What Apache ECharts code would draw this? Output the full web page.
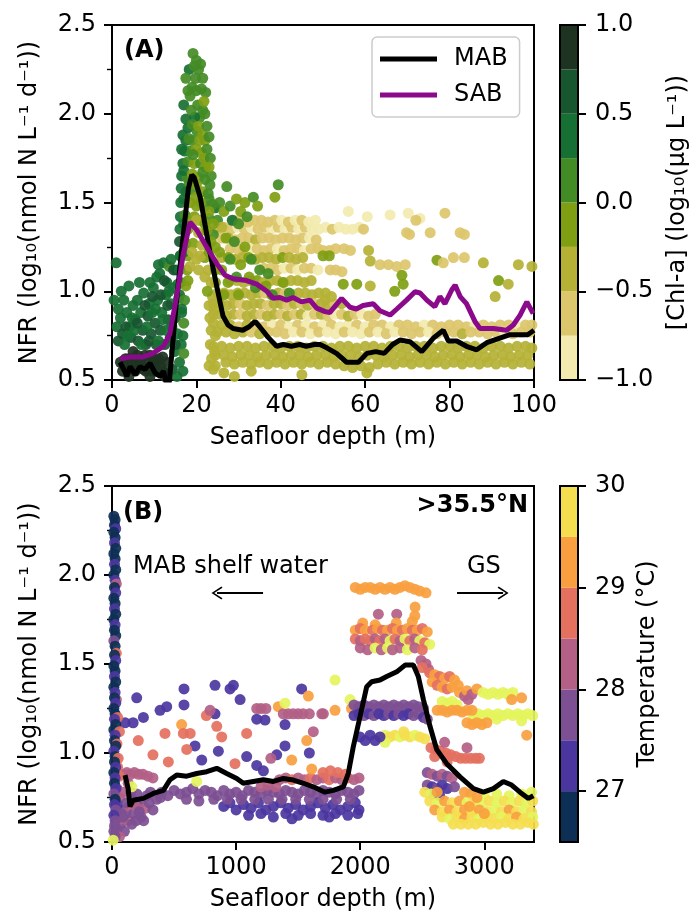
<!DOCTYPE html>
<html><head><meta charset="utf-8">
<script src="https://cdn.jsdelivr.net/npm/echarts@6/dist/echarts.min.js"></script>
<style>html,body{margin:0;padding:0;background:#fff}#c{width:697px;height:917px}</style>
</head><body><div id="c"></div>
<script>
// ---------------- Panel A data: [seafloor depth (m), log10 NFR, log10 Chl-a] ----------------
const shelfA = [
[1.0,1.16,0.4],[1.2,0.80,0.3],[1.5,0.72,0.6],[2.0,0.85,0.35],[2.5,0.76,0.55],[3.0,0.70,0.4],[3.2,0.62,0.85],[3.5,0.88,0.3],[4.0,1.03,0.35],[4.2,0.80,0.45],[4.5,0.74,0.6],[5.0,0.92,0.3],[5.0,0.66,0.85],[5.5,0.84,0.5],[5.8,0.58,0.9],[6.0,0.95,0.4],[6.2,0.72,0.55],[6.8,0.88,0.45],[7.0,0.62,0.85],[7.3,0.78,0.6],[7.5,0.99,0.3],[8.0,0.70,0.5],[8.0,0.55,0.9],[8.5,0.86,0.55],[8.8,0.93,0.35],[9.0,0.64,0.8],[9.3,0.76,0.6],[9.8,1.02,0.4],[10.0,0.58,0.85],[10.2,0.82,0.5],[10.5,0.70,0.65],[10.8,0.95,0.45],[11.0,0.62,0.9],[11.3,1.10,0.4],[11.5,0.78,0.55],[11.8,0.88,0.3],[12.0,0.55,0.85],[12.2,1.16,0.35],[12.5,0.70,0.6],[12.8,0.98,0.45],[13.0,1.05,0.3],[13.0,0.60,0.8],[13.3,0.84,0.55],[13.6,1.14,0.2],[13.8,0.74,0.5],[14.0,0.93,0.4],[14.3,0.56,0.7],[14.5,1.02,0.35],[14.8,0.66,0.45],[15.0,0.85,0.5],[15.2,1.12,0.3],[15.4,0.52,0.4],[15.5,0.76,0.35],[15.8,0.96,0.45],[16.0,0.60,0.3],[16.2,1.20,0.35],[16.4,0.70,0.3],[16.5,0.88,0.4],
[2.0,0.60,0.9],[3.8,0.56,0.9],[4.5,0.60,0.95],[6.5,0.57,0.9],[7.8,0.64,0.85],[9.5,0.55,0.9],[10.8,0.60,0.88],[12.5,0.52,0.85],
[0.5,0.95,0.4],[1.5,0.90,0.35],[2.2,1.00,0.3],[2.8,0.95,0.45],[3.3,0.80,0.5],[3.6,0.75,0.35],[4.8,0.85,0.4],[5.3,0.78,0.3],[6.0,0.82,0.6],[6.5,1.05,0.35],[7.0,0.70,0.45],[7.8,0.92,0.5],[8.3,0.80,0.35],[8.8,0.72,0.6],[9.5,0.88,0.4],[9.6,0.97,0.55],[10.3,0.90,0.3],[10.6,1.08,0.4],[11.0,0.72,0.45],[11.6,0.98,0.6],[12.0,0.84,0.4],[12.4,1.06,0.5],[12.8,0.78,0.35],[13.2,0.92,0.6],[13.5,1.00,0.45],[14.2,0.80,0.3],[14.6,1.12,0.5],[15.0,0.70,0.55],[15.6,1.04,0.4],[14.0,1.18,0.3],[11.0,1.15,0.45],[9.0,1.05,0.35],
[3.0,0.58,0.9],[4.0,0.62,0.85],[5.0,0.60,0.95],[5.5,0.55,0.9],[6.0,0.64,0.85],[6.8,0.60,0.9],[7.5,0.56,0.95],[8.5,0.60,0.9],[9.0,0.52,0.85],[9.8,0.62,0.9],[10.5,0.55,0.95],[11.5,0.58,0.9],[12.0,0.63,0.85],[13.0,0.54,0.9],[2.5,0.55,0.9],[4.0,0.52,0.9]
];
const peakA = [
[19.2,2.34,0.2],[18.3,2.25,0.3],[19.5,2.27,0.1],[20.5,2.25,0.15],[21.0,2.28,0.1],[18.0,2.13,0.2],[19.0,2.15,0.05],[20.0,2.13,0.15],[21.2,2.14,0.02],[20.3,2.05,0.1],[21.5,2.02,0.05],[22.0,2.00,0.1],[20.8,1.98,0.02],[19.6,1.98,0.3],[18.0,1.92,0.3],[20.2,1.90,0.05],[21.5,1.88,-0.05],[17.5,1.85,0.3],[19.0,1.85,0.1],[22.0,1.85,-0.1],[17.2,1.79,0.3],[18.5,1.79,0.02],[20.0,1.80,-0.05],[21.2,1.78,-0.1],[22.5,1.80,0.05],[16.8,1.72,0.35],[18.0,1.73,0.1],[19.5,1.72,-0.1],[21.0,1.72,0.02],[22.2,1.70,-0.05],[16.5,1.65,0.4],[17.8,1.64,0.2],[20.5,1.64,-0.05],[22.0,1.63,0.1],[23.5,1.65,0.2],[16.4,1.58,0.45],[17.5,1.56,0.3],[19.0,1.57,0.02],[21.5,1.56,-0.1],[22.8,1.55,0.2],[16.3,1.50,0.4],[18.5,1.50,-0.05],[20.0,1.48,-0.15],[22.0,1.48,0.02],[23.8,1.49,0.1],[16.2,1.42,0.45],[17.3,1.43,0.2],[19.5,1.42,-0.2],[21.0,1.40,-0.1],[23.0,1.41,0.05],[16.1,1.35,0.4],[18.0,1.35,-0.1],[20.5,1.33,-0.3],[22.5,1.34,-0.15],[16.0,1.28,0.5],[17.5,1.27,0.1],[19.2,1.27,-0.2],[21.3,1.26,-0.3],[23.5,1.28,-0.1],[16.2,1.20,0.45],[18.0,1.20,-0.1],[20.0,1.18,-0.3],[22.0,1.19,-0.2],[16.0,1.12,0.35],[17.8,1.12,-0.15],[22.8,1.12,-0.3],[16.3,1.05,0.4],[17.5,1.03,-0.05],[23.5,1.05,-0.3],[16.0,0.98,0.3],[17.2,0.95,0.05],[23.8,0.97,-0.3],[16.5,0.90,0.35],[17.0,0.82,0.1],[24.2,0.90,-0.3],[16.8,0.75,0.3],[17.0,0.65,0.2],[16.8,0.55,0.35],[24.0,0.82,-0.3],[24.5,0.75,-0.35],[24.3,0.66,-0.3],[24.5,0.58,-0.35],
[23.0,0.92,-0.3],[23.2,0.85,-0.35],[23.5,0.78,-0.3],[23.3,0.70,-0.35],[23.6,0.62,-0.4],[24.0,0.56,-0.3],[22.6,1.00,-0.2],[23.0,0.58,-0.35],
[17.0,2.05,0.3],[17.5,2.20,0.15],[18.5,2.10,0.05],[19.8,2.20,0.1],[20.0,2.30,0.05],[21.5,2.20,0.2],[22.2,2.12,0.1],[21.8,2.07,-0.05],[18.8,2.02,0.2],[17.5,1.97,0.35],[19.0,1.94,0.1],[20.5,1.93,-0.05],[22.5,1.93,0.05],[16.8,1.88,0.3],[18.2,1.86,0.15],[20.8,1.85,-0.1],[23.0,1.87,0.1],[16.5,1.80,0.35],[19.2,1.77,0.02],[21.8,1.75,-0.1],[23.3,1.75,0.05],[17.0,1.68,0.3],[19.0,1.66,-0.05],[21.5,1.67,0.05],[23.0,1.70,-0.15],[18.3,1.61,0.1],[20.0,1.60,-0.1],[23.2,1.60,0.1],[17.0,1.52,0.35],[19.8,1.53,-0.1],[21.0,1.50,-0.05],[23.0,1.45,-0.1],[17.0,1.38,0.3],[18.8,1.39,-0.15],[20.0,1.40,-0.3],[22.0,1.38,-0.2],[24.0,1.38,-0.1],[17.0,1.22,0.3],[19.0,1.22,-0.3],[21.0,1.20,-0.35],[23.0,1.22,-0.2],[18.5,1.14,-0.3],[20.5,1.12,-0.35],[22.0,1.08,-0.3],[18.0,1.06,-0.2],[24.5,1.12,-0.2],[24.5,1.25,-0.1]
];
const midA = [
[23.0,1.52,0.1],[24.5,1.47,0.3],[25.5,1.50,0.2],[26.5,1.45,-0.1],[27.2,1.59,0.1],[28.0,1.48,0.02],[29.5,1.52,-0.2],[30.5,1.45,-0.1],[31.5,1.50,-0.15],[33.5,1.53,0.05],[34.5,1.48,-0.2],[38.6,1.53,-0.15],[39.4,1.60,0.1],[25.0,1.40,0.2],[26.0,1.36,-0.3],[28.5,1.40,0.3],[30.0,1.38,0.1],[32.0,1.42,0.05],[24.0,1.32,0.02],[27.0,1.30,-0.1],[29.0,1.28,0.15],[31.5,1.25,-0.05],[25.5,1.22,-0.2],[28.0,1.18,0.1],[30.5,1.15,-0.05],[33.0,1.18,0.1],[26.0,1.12,-0.15],[24.5,1.05,-0.2],[27.5,1.05,-0.1],[29.5,1.08,0.05],[32.5,1.08,-0.1],[35.0,1.12,0.1],[26.5,0.98,-0.2],[30.0,0.98,-0.1],[34.0,1.02,0.1],[36.5,1.03,-0.05],[38.0,0.98,0.1],[37.0,1.10,0.05],[40.5,1.05,-0.1],[42.0,0.99,0.02]
];
const upperBandsA = [
[25.0,1.35,-0.6],[26.6,1.36,-0.7],[28.2,1.35,-0.55],[29.8,1.36,-0.8],[31.4,1.35,-0.6],[33.0,1.36,-0.85],[34.6,1.35,-0.6],[36.2,1.36,-0.7],[37.8,1.35,-0.8],[39.4,1.36,-0.6],[41.0,1.35,-0.85],[42.6,1.36,-0.6],[44.2,1.35,-0.8],[45.8,1.36,-0.6],[47.4,1.35,-0.85],[49.0,1.35,-0.9],[50.6,1.36,-0.8],[52.2,1.35,-0.6],[53.8,1.36,-0.85],[55.4,1.35,-0.8],[57.0,1.35,-0.9],[58.6,1.36,-0.85],
[29.0,1.40,-0.6],[30.6,1.40,-0.55],[32.2,1.39,-0.6],[33.8,1.40,-0.7],[35.4,1.40,-0.6],[37.0,1.39,-0.55],[38.6,1.40,-0.6],[40.2,1.40,-0.8],[41.8,1.39,-0.6],[43.4,1.40,-0.85],[45.0,1.40,-0.6],[46.6,1.39,-0.9],[48.2,1.40,-0.85],
[26.0,1.30,-0.55],[27.6,1.30,-0.4],[29.2,1.29,-0.6],[30.8,1.30,-0.55],[32.4,1.30,-0.6],[34.0,1.29,-0.4],[35.6,1.30,-0.6],[37.2,1.30,-0.55],[38.8,1.29,-0.6],[40.4,1.30,-0.7],[42.0,1.30,-0.6],[43.6,1.29,-0.55],[45.2,1.30,-0.6],[46.8,1.30,-0.85],[48.4,1.29,-0.6],
[28.0,1.24,-0.6],[29.6,1.24,-0.55],[31.2,1.23,-0.6],[32.8,1.24,-0.8],[34.4,1.24,-0.6],[36.0,1.23,-0.55],[37.6,1.24,-0.6],[39.2,1.24,-0.85],[40.8,1.23,-0.6],[42.4,1.24,-0.55],[44.0,1.24,-0.6],[45.6,1.23,-0.8],[47.2,1.24,-0.6],[48.8,1.24,-0.55],
[26.0,1.19,-0.3],[27.6,1.19,-0.2],[29.2,1.18,-0.4],[30.8,1.19,-0.3],[32.4,1.19,-0.1],[34.0,1.18,-0.35],[35.6,1.19,-0.3],[37.2,1.19,-0.4],[38.8,1.18,-0.3],[40.4,1.19,-0.2],[42.0,1.19,-0.35],[43.6,1.18,-0.3],[45.2,1.19,-0.4],
[36.0,1.13,-0.6],[37.6,1.13,-0.55],[39.2,1.12,-0.6],[40.8,1.13,-0.8],[42.4,1.13,-0.6],[44.0,1.12,-0.85],[45.6,1.13,-0.6],[47.2,1.13,-0.55],[48.8,1.12,-0.8],
[28.0,1.06,-0.3],[29.6,1.06,-0.35],[31.2,1.05,-0.4],[32.8,1.06,-0.3],[34.4,1.06,-0.2],[36.0,1.05,-0.35],[37.6,1.06,-0.4],[39.2,1.06,-0.3],[40.8,1.05,-0.35],[42.4,1.06,-0.4],[44.0,1.06,-0.3],[45.6,1.05,-0.45],[47.2,1.06,-0.35],
[25.0,0.99,-0.35],[26.6,0.99,-0.4],[28.2,0.98,-0.3],[29.8,0.99,-0.45],[31.4,0.99,-0.35],[33.0,0.98,-0.4],[34.6,0.99,-0.3],[36.2,0.99,-0.6],[37.8,0.98,-0.4],[39.4,0.99,-0.35],[41.0,0.99,-0.6],[42.6,0.98,-0.4],[44.2,0.99,-0.3],[45.8,0.99,-0.4],[47.4,0.98,-0.35],[49.0,0.99,-0.4],[50.6,0.99,-0.3],
[24.0,0.93,-0.3],[25.6,0.93,-0.35],[27.2,0.92,-0.4],[28.8,0.93,-0.3],[30.4,0.93,-0.6],[32.0,0.92,-0.35],[33.6,0.93,-0.4],[35.2,0.93,-0.3],[36.8,0.92,-0.6],[38.4,0.93,-0.4],[40.0,0.93,-0.35],[41.6,0.92,-0.6],[43.2,0.93,-0.4],[44.8,0.93,-0.55],[46.4,0.92,-0.35],[48.0,0.93,-0.6],[49.6,0.93,-0.4],[51.2,0.92,-0.35],[52.8,0.93,-0.6],[54.4,0.93,-0.4],
[24.0,0.87,-0.35],[25.6,0.87,-0.3],[27.2,0.86,-0.4],[28.8,0.87,-0.35],[30.4,0.87,-0.6],[32.0,0.86,-0.4],[33.6,0.87,-0.3],[35.2,0.87,-0.6],[36.8,0.86,-0.35],[38.4,0.87,-0.4],[40.0,0.87,-0.6],[41.6,0.86,-0.35],[43.2,0.87,-0.6],[44.8,0.87,-0.4],[46.4,0.86,-0.8],[48.0,0.87,-0.6],[49.6,0.87,-0.35],[51.2,0.86,-0.6],[52.8,0.87,-0.8],[54.4,0.87,-0.6],[56.0,0.86,-0.4],[57.6,0.87,-0.6],[59.2,0.87,-0.8],[60.8,0.86,-0.6],[62.4,0.87,-0.6]
];
const lowerBandsA = [
[26.0,0.81,-0.4],[28.0,0.81,-0.35],[30.0,0.80,-0.6],[32.0,0.81,-0.4],[34.0,0.81,-0.6],[36.0,0.80,-0.55],[38.0,0.81,-0.8],[40.0,0.81,-0.6],[42.0,0.80,-0.85],[44.0,0.81,-0.6],[46.0,0.81,-0.8],[48.0,0.80,-0.6],[50.0,0.81,-0.85],[52.0,0.81,-0.6],[54.0,0.80,-0.8],[56.0,0.81,-0.9],[58.0,0.81,-0.6],[60.0,0.80,-0.85],[62.0,0.81,-0.6],[64.0,0.81,-0.6],[66.0,0.80,-0.8],[68.0,0.81,-0.6],[70.0,0.81,-0.55],[72.0,0.80,-0.6],[74.0,0.81,-0.8],[76.0,0.81,-0.6],[78.0,0.80,-0.6],[80.0,0.81,-0.55],[82.0,0.81,-0.6],[84.0,0.80,-0.6],[86.0,0.81,-0.8],[88.0,0.81,-0.6],[90.0,0.80,-0.6],[92.0,0.81,-0.55],[94.0,0.81,-0.6],[96.0,0.80,-0.8],[98.0,0.81,-0.6],[99.5,0.81,-0.6],
[25.0,0.77,-0.35],[27.0,0.77,-0.4],[29.0,0.76,-0.3],[31.0,0.77,-0.35],[33.0,0.77,-0.6],[35.0,0.76,-0.4],[37.0,0.77,-0.6],[39.0,0.77,-0.55],[41.0,0.76,-0.6],[43.0,0.77,-0.8],[45.0,0.77,-0.6],[47.0,0.76,-0.85],[49.0,0.77,-0.6],[51.0,0.77,-0.9],[53.0,0.76,-0.85],[55.0,0.77,-0.6],[57.0,0.77,-0.9],[59.0,0.76,-0.8],[61.0,0.77,-0.6],[63.0,0.77,-0.85],[65.0,0.76,-0.6],[67.0,0.77,-0.8],[69.0,0.77,-0.6],[71.0,0.76,-0.55],[73.0,0.77,-0.6],[75.0,0.77,-0.8],[77.0,0.76,-0.6],[79.0,0.77,-0.55],[81.0,0.77,-0.6],[83.0,0.76,-0.4],[85.0,0.77,-0.6],[87.0,0.77,-0.6],[89.0,0.76,-0.55],[91.0,0.77,-0.6],[93.0,0.77,-0.8],[95.0,0.76,-0.6],[97.0,0.77,-0.6],[99.0,0.77,-0.55],
[24.0,0.69,-0.3],[26.0,0.69,-0.35],[28.0,0.68,-0.4],[30.0,0.69,-0.3],[32.0,0.69,-0.35],[34.0,0.68,-0.4],[36.0,0.69,-0.3],[38.0,0.69,-0.4],[40.0,0.68,-0.35],[42.0,0.69,-0.4],[44.0,0.69,-0.3],[46.0,0.68,-0.4],[48.0,0.69,-0.35],[50.0,0.69,-0.4],[52.0,0.68,-0.3],[54.0,0.69,-0.4],[56.0,0.69,-0.35],[58.0,0.68,-0.4],[60.0,0.69,-0.3],[62.0,0.69,-0.4],[64.0,0.68,-0.35],[66.0,0.69,-0.4],[68.0,0.69,-0.3],[70.0,0.68,-0.4],[72.0,0.69,-0.35],[74.0,0.69,-0.4],[76.0,0.68,-0.3],[78.0,0.69,-0.4],[80.0,0.69,-0.35],[82.0,0.68,-0.4],[84.0,0.69,-0.3],[86.0,0.69,-0.4],[88.0,0.68,-0.35],[90.0,0.69,-0.4],[92.0,0.69,-0.3],[94.0,0.68,-0.4],[96.0,0.69,-0.35],[98.0,0.69,-0.4],[99.5,0.68,-0.35],
[24.5,0.64,-0.35],[26.5,0.64,-0.4],[28.5,0.63,-0.3],[30.5,0.64,-0.4],[32.5,0.64,-0.35],[34.5,0.63,-0.4],[36.5,0.64,-0.3],[38.5,0.64,-0.4],[40.5,0.63,-0.35],[42.5,0.64,-0.4],[44.5,0.64,-0.3],[46.5,0.63,-0.4],[48.5,0.64,-0.35],[50.5,0.64,-0.4],[52.5,0.63,-0.3],[54.5,0.64,-0.4],[56.5,0.64,-0.35],[58.5,0.63,-0.4],[60.5,0.64,-0.3],[62.5,0.64,-0.4],[64.5,0.63,-0.35],[66.5,0.64,-0.4],[68.5,0.64,-0.3],[70.5,0.63,-0.4],[72.5,0.64,-0.35],[74.5,0.64,-0.4],[76.5,0.63,-0.3],[78.5,0.64,-0.4],[80.5,0.64,-0.35],[82.5,0.63,-0.4],[84.5,0.64,-0.3],[86.5,0.64,-0.4],[88.5,0.63,-0.35],[90.5,0.64,-0.4],[92.5,0.64,-0.3],[94.5,0.63,-0.4],[96.5,0.64,-0.35],[98.5,0.64,-0.4],
[27.0,0.60,-0.4],[29.0,0.59,-0.35],[31.0,0.60,-0.4],[33.0,0.59,-0.3],[35.0,0.60,-0.4],[37.0,0.59,-0.35],[39.0,0.60,-0.4],[41.0,0.59,-0.3],[43.0,0.60,-0.4],[45.0,0.59,-0.35],[47.0,0.60,-0.4],[49.0,0.59,-0.3],[51.0,0.60,-0.4],[53.0,0.59,-0.35],[55.0,0.58,-0.4],[57.0,0.57,-0.3],[59.0,0.58,-0.4],[61.0,0.57,-0.35],[63.0,0.59,-0.4],[65.0,0.60,-0.3],[67.0,0.59,-0.4],[69.0,0.60,-0.35],[71.0,0.59,-0.4],[73.0,0.60,-0.3],[75.0,0.59,-0.4],[77.0,0.60,-0.35],[79.0,0.59,-0.4],[81.0,0.60,-0.3],[83.0,0.59,-0.4],[85.0,0.60,-0.35],[87.0,0.59,-0.4],[89.0,0.60,-0.3],[91.0,0.59,-0.4],[93.0,0.60,-0.35],[95.0,0.59,-0.4],[97.0,0.60,-0.3],[99.0,0.59,-0.4],
[26.5,0.54,-0.3],[29.0,0.52,-0.35],[33.0,0.55,-0.4],[45.0,0.53,-0.35],[60.4,0.54,-0.4]
];
const sparseA = [
[65.9,1.43,-0.85],[70.2,1.44,-0.9],[73.0,1.41,-0.85],[72.0,1.40,-0.6],[78.9,1.44,-0.6],[59.6,1.35,-0.6],[69.8,1.33,-0.6],[70.5,1.32,-0.55],[75.4,1.33,-0.6],[82.5,1.33,-0.6],[83.5,1.32,-0.55],[50.0,1.23,-0.6],[51.5,1.23,-0.55],[53.0,1.24,-0.6],[55.0,1.24,-0.55],[56.5,1.23,-0.6],[50.0,1.20,-0.2],[51.5,1.20,-0.15],[60.8,1.23,-0.4],[61.2,1.17,-0.4],[77.0,1.175,-0.1],[78.5,1.16,-0.6],[80.9,1.19,-0.6],[83.5,1.19,-0.6],[63.5,1.15,-0.6],[65.5,1.15,-0.6],[67.5,1.14,-0.55],[69.5,1.15,-0.6],[68.7,1.09,-0.1],[69.0,1.04,-0.1],[67.0,1.00,-0.1],[51.7,1.12,-0.6],[53.0,1.12,-0.55],[54.5,1.11,-0.6],[54.8,1.04,-0.2],[58.0,1.04,-0.1],[61.2,1.03,-0.4],[96.3,1.15,-0.4],[99.5,1.14,-0.3],[91.6,1.06,-0.1],[93.9,1.04,-0.4],[90.8,0.97,-0.4],[56.0,1.45,-0.85],[60.5,1.42,-0.85],[50.5,0.95,-0.35],[52.0,0.97,-0.35],[88.0,1.16,-0.4]
];

// line series (panel A)
const mabA = [[1.9,0.60],[3.0,0.55],[3.5,0.52],[4.3,0.575],[5.5,0.53],[6.6,0.575],[7.8,0.56],[9.0,0.595],[10.2,0.54],[11.4,0.52],[12.2,0.55],[13.0,0.47],[13.3,0.42],[13.7,0.52],[15.3,0.95],[16.9,1.32],[18.1,1.58],[18.9,1.655],[19.5,1.64],[20.9,1.53],[22.0,1.38],[23.2,1.22],[24.8,1.03],[26.3,0.86],[27.5,0.81],[28.7,0.79],[31.0,0.78],[32.5,0.80],[33.9,0.83],[35.0,0.80],[37.0,0.74],[39.0,0.69],[40.6,0.70],[42.5,0.69],[44.5,0.70],[46.0,0.69],[48.0,0.70],[49.3,0.70],[51.0,0.68],[53.2,0.65],[55.6,0.60],[58.4,0.60],[60.4,0.65],[62.5,0.66],[64.5,0.65],[66.5,0.70],[68.2,0.725],[70.6,0.716],[73.4,0.66],[76.1,0.735],[78.5,0.78],[79.7,0.72],[81.7,0.72],[84.0,0.69],[86.4,0.67],[88.8,0.71],[91.9,0.736],[94.3,0.755],[96.5,0.755],[98.5,0.755],[100,0.78]];
const sabA = [[1.9,0.62],[4.3,0.63],[7.4,0.63],[9.7,0.65],[12.2,0.69],[13.7,0.76],[15.3,0.97],[16.9,1.21],[18.5,1.39],[20.1,1.345],[22.4,1.25],[24.8,1.157],[26.8,1.09],[28.7,1.07],[31.9,1.06],[34.3,1.04],[36.7,1.0],[38.2,0.96],[39.8,0.965],[41.4,0.95],[42.9,0.965],[44.9,0.94],[46.9,0.95],[48.5,0.905],[50.5,0.885],[51.6,0.88],[54.4,0.96],[56.4,0.91],[57.9,0.90],[59.5,0.92],[61.9,0.93],[63.5,0.89],[65.9,0.866],[67.5,0.90],[69.8,0.95],[71.8,0.997],[73.0,0.99],[74.6,0.95],[76.5,0.913],[77.7,0.97],[78.9,0.93],[80.5,1.007],[81.3,1.035],[82.5,0.97],[84.0,0.93],[86.0,0.83],[87.2,0.79],[90.4,0.79],[93.5,0.78],[95.1,0.81],[96.7,0.866],[98.3,0.94],[99.8,0.875]];

// ---------------- Panel B data: [seafloor depth (m), log10 NFR, temperature °C] ----------------
const columnB = [
[15,2.33,26.7],[25,2.31,26.8],[20,2.28,26.9],[30,2.26,27.2],[15,2.24,26.7],[25,2.21,26.8],[20,2.18,27.3],[30,2.15,26.7],[15,2.12,26.8],[25,2.09,26.7],[20,2.06,27.2],[30,2.03,26.8],[15,2.00,26.7],[25,1.97,27.3],[35,1.95,28.3],[20,1.93,26.8],[30,1.90,27.2],[15,1.87,26.7],[25,1.84,26.8],[20,1.81,27.4],[30,1.78,26.7],[15,1.75,26.8],[25,1.72,27.3],[20,1.69,26.7],[30,1.66,26.9],[15,1.63,27.8],[25,1.60,26.7],[35,1.56,28.6],[20,1.55,26.8],[30,1.52,27.3],[15,1.49,26.7],[25,1.46,26.8],[20,1.43,27.2],[30,1.40,26.7],[15,1.37,26.8],[25,1.34,27.3],[35,1.30,28.4],[20,1.31,26.7],[30,1.28,27.2],[15,1.25,26.8],[25,1.22,26.7],[45,1.20,28.7],[20,1.19,27.3],[30,1.16,26.8],[15,1.13,26.7],[60,1.12,28.8],[25,1.10,27.2],[20,1.07,26.7],[40,1.05,28.6],[30,1.04,26.8],[15,1.01,27.3],[25,0.98,26.7],[50,0.97,28.7],[20,0.95,26.8],[30,0.92,27.2],[15,0.89,26.7],[25,0.86,27.4],[20,0.83,26.8],[30,0.80,27.3],[15,0.77,27.7],[25,0.74,26.8],[20,0.71,27.2],[30,0.68,27.8],[15,0.65,27.3],[25,0.62,27.7],[20,0.59,27.8],[15,0.56,27.7],[25,0.53,27.9],[10,0.51,30.3]
];
const shelfLowB = [
[40,0.57,27.8],[70,0.60,27.7],[100,0.56,27.9],[130,0.62,28.1],[160,0.60,27.7],[50,0.66,28.2],[80,0.68,27.7],[110,0.66,27.8],[140,0.70,28.2],[175,0.66,27.6],[210,0.70,27.8],[240,0.73,27.7],[270,0.69,28.2],[300,0.72,27.8],[330,0.68,27.7],[360,0.74,27.9],[390,0.75,27.7],[60,0.75,28.3],[40,0.80,27.7],[95,0.78,28.2],[165,0.74,27.8],[200,0.77,27.8],[45,0.71,27.4],[75,0.63,28.3],[195,0.62,27.7],[235,0.64,27.8],[120,0.72,27.7],[280,0.76,27.7],[150,0.78,27.8],[60,0.53,28.2],[90,0.64,27.6],[190,0.70,28.3],[220,0.67,27.7],[255,0.62,27.8],[310,0.78,27.9],[130,0.83,28.2],
[90,0.88,28.2],[120,0.89,28.3],[150,0.88,28.2],[180,0.89,28.2],[215,0.88,28.3],[250,0.88,28.2],[290,0.87,28.2],[330,0.86,28.3],[60,0.87,28.7],[45,0.92,28.7]
];
const bandB = [
[400,0.78,27.7],[450,0.76,27.8],[500,0.79,27.7],[550,0.77,27.9],[600,0.78,27.7],[650,0.80,27.8],[700,0.77,27.7],[750,0.79,27.8],[800,0.78,27.7],[850,0.76,27.9],[900,0.79,27.7],[950,0.77,27.8],[1000,0.78,27.7],[1050,0.76,27.7],[1100,0.79,27.8],[1150,0.78,27.7],[1200,0.77,27.9],[1250,0.79,27.7],[1300,0.78,27.8],[1350,0.77,27.7],[1400,0.79,27.7],[1450,0.78,27.8],[1500,0.77,27.7],[1550,0.79,27.9],[1600,0.78,27.7],[1650,0.77,27.8],[1700,0.79,27.7],[1750,0.78,27.7],[1800,0.77,27.8],[1850,0.79,27.7],[1900,0.78,27.7],[1950,0.77,27.8],[1990,0.79,27.7],
[900,0.70,27.2],[950,0.72,27.3],[1000,0.68,27.2],[1060,0.71,27.4],[1120,0.69,27.2],[1180,0.72,27.3],[1240,0.68,27.2],[1300,0.70,27.3],[1360,0.72,27.2],[1420,0.69,27.4],[1480,0.71,27.2],[1540,0.68,27.3],[1600,0.70,27.2],[1660,0.72,27.2],[1720,0.69,27.3],[1780,0.71,27.2],[1840,0.68,27.2],[1900,0.70,27.3],[1960,0.72,27.2],[1990,0.68,27.2],
[1100,0.65,27.2],[1200,0.66,27.3],[1300,0.64,27.2],[1400,0.66,27.2],[1500,0.65,27.3],[1600,0.66,27.2],[1700,0.65,27.2],[1800,0.66,27.3],[1900,0.65,27.2],[1980,0.66,27.2],[1450,0.63,27.2],[1750,0.64,27.2],
[600,0.74,27.8],[700,0.73,27.7],[820,0.74,27.6],[930,0.74,27.8],[1040,0.74,27.7],[1150,0.74,27.6],[1260,0.74,27.7],[1370,0.74,27.8],[1480,0.74,27.6],[1590,0.74,27.7],[1700,0.74,27.8],[1810,0.74,27.6],[1920,0.74,27.7],
[1350,0.85,28.2],[1400,0.86,28.3],[1450,0.85,28.7],[1500,0.86,28.2],[1550,0.85,28.3],[1600,0.86,28.6],[1650,0.85,28.2],[1700,0.86,28.2],[1750,0.85,28.7],[1800,0.86,28.3],[1850,0.85,28.2],[1900,0.86,28.6],[1950,0.85,28.2],[1990,0.86,28.3],
[1200,0.81,28.2],[1260,0.82,28.3],[1320,0.81,28.2],[1700,0.89,28.8],[1760,0.90,28.7],[1820,0.89,28.8],[1880,0.88,28.7]
];
const scatterB = [
[199,1.31,27.2],[253,1.20,27.2],[105,1.17,27.3],[170,1.17,27.2],[387,1.24,27.2],[441,1.26,27.2],[580,1.36,27.2],[580,1.27,27.2],[830,1.38,27.2],[951,1.36,27.3],[978,1.38,27.2],[1032,1.30,27.2],[830,1.22,27.3],[1166,1.19,27.2],[1233,1.185,27.2],[1394,1.16,27.2],[1394,1.04,27.2],[1528,1.36,27.2],[1590,1.00,27.2],[669,1.04,27.2],[857,1.01,27.3],[723,0.96,27.2],[1085,0.98,27.2],[1327,0.99,27.2],[1166,0.93,27.2],[1220,0.90,27.3],
[561,1.16,29.3],[427,1.11,28.8],[212,1.07,28.8],[575,1.11,28.7],[630,1.11,28.8],[602,1.02,28.8],[454,0.95,28.7],[844,1.15,28.8],[884,1.09,28.7],[1085,1.11,28.8],[991,0.94,28.7],[1340,1.26,29.3],[1582,1.32,29.2],[1569,1.07,29.3],[1448,0.96,29.3],[1609,0.91,29.2],[330,0.99,28.8],[760,1.21,28.8],
[1166,1.25,28.2],[1200,1.25,28.3],[1240,1.25,28.2],[1380,1.22,28.3],[1420,1.22,28.2],[1460,1.22,28.2],[1500,1.22,28.3],[1540,1.22,28.2],[1590,1.22,28.2],[1690,1.22,28.3],[790,1.24,28.2],[1622,1.12,28.3],[1280,0.97,28.2],
[159,0.81,30.3],[682,0.84,30.2],[1394,1.28,30.2],[1703,1.22,28.2],[1797,1.41,30.2],[1797,1.24,29.3],[1918,1.30,30.2],[1930,1.25,29.2]
];
const gsB = [
[1960,1.93,29.3],[2000,1.92,29.2],[2040,1.93,29.3],[2080,1.93,29.2],[2120,1.92,29.3],[2160,1.93,29.2],[2200,1.92,29.3],[2240,1.93,29.3],[2280,1.92,29.2],[2320,1.93,29.3],[2360,1.94,29.2],[2400,1.93,29.3],[2440,1.92,29.2],[2480,1.91,29.3],[2530,1.90,29.2],
[2442,1.82,29.2],[2440,1.77,29.1],[2146,1.78,28.2],[2294,1.78,28.3],[2020,1.73,29.2],[2120,1.72,29.1],[2290,1.73,29.2],[2420,1.74,29.3],
[1960,1.69,29.1],[2000,1.70,28.9],[2040,1.69,29.2],[2100,1.69,28.8],[2140,1.70,29.1],[2180,1.69,28.9],[2220,1.69,29.2],[2260,1.70,28.8],[2300,1.69,29.1],[2340,1.69,28.9],[2380,1.70,29.2],[2420,1.69,28.8],[2460,1.69,29.1],[2500,1.70,28.9],[2540,1.68,29.2],
[1960,1.64,28.8],[2000,1.63,28.2],[2040,1.64,28.7],[2080,1.63,28.9],[2120,1.64,28.2],[2160,1.63,28.8],[2200,1.64,28.3],[2240,1.63,30.2],[2280,1.64,28.7],[2320,1.63,28.2],[2360,1.64,30.3],[2400,1.63,28.8],[2440,1.64,28.2],[2480,1.63,30.2],[2520,1.62,28.8],[2560,1.61,30.2],
[2000,1.59,28.3],[2060,1.58,28.2],[2120,1.59,30.2],[2170,1.58,28.3],[2220,1.59,30.3],[2260,1.58,28.2],[2320,1.59,28.3],[2380,1.58,30.2],[2440,1.59,28.2],[2500,1.58,28.7],
[2490,1.52,28.2],[2530,1.50,28.3],[2550,1.47,28.2],[2500,1.48,28.8],
[2560,1.45,28.8],[2600,1.44,29.2],[2640,1.43,28.8],[2680,1.42,29.1],[2720,1.43,28.9],[2760,1.41,29.2],[2580,1.40,29.3],[2620,1.38,28.7],[2660,1.37,29.2],[2700,1.36,28.9],[2740,1.37,29.3],[2790,1.38,29.1],
[2800,1.34,29.2],[2840,1.32,28.3],[2860,1.35,29.3],[2900,1.33,28.2],[2940,1.36,29.1],[2870,1.30,28.4],
[2990,1.34,30.2],[3030,1.33,30.3],[3070,1.34,30.2],[3110,1.33,30.3],[3150,1.34,30.2],[3190,1.33,30.2],[3230,1.34,30.3],
[2660,1.29,30.2],[2700,1.28,30.3],[2740,1.29,30.2],[2780,1.27,30.2],
[2910,1.21,30.2],[2950,1.22,30.3],[2990,1.21,30.2],[3030,1.22,30.2],[3070,1.21,30.3],[3110,1.22,30.2],[3150,1.21,30.2],[3190,1.22,30.3],[3230,1.21,30.2],[3270,1.22,30.2],[3310,1.21,30.3],[3350,1.22,30.2],[3390,1.21,30.2],[2930,1.19,30.3],[3100,1.19,30.2],[3300,1.18,30.3],
[2620,1.24,29.3],[2660,1.24,29.2],[2700,1.23,29.3],[2740,1.24,29.2],[2780,1.24,29.3],[2820,1.23,29.2],[2860,1.24,29.3],[2900,1.24,29.2],
[2860,1.17,29.2],[2900,1.16,29.3],[2940,1.17,29.2],[2980,1.16,29.3],[3020,1.17,29.2],[3341,1.10,29.3],[3220,1.30,29.2],[3300,1.31,29.3],
[1950,1.27,27.7],[1990,1.26,27.8],[2030,1.27,27.7],[2070,1.26,27.8],[2110,1.27,27.7],[2150,1.26,27.8],[2190,1.27,27.7],[2230,1.26,27.8],[2270,1.27,27.7],[2310,1.26,27.8],[2350,1.27,27.7],[2390,1.26,27.8],[2430,1.27,27.7],[2470,1.26,27.8],[2510,1.25,27.7],
[1950,1.21,27.3],[1990,1.22,27.4],[2030,1.21,27.7],[2070,1.22,27.3],[2110,1.21,27.8],[2150,1.22,27.4],[2190,1.21,27.3],[2230,1.22,27.7],[2270,1.21,27.3],[2310,1.22,27.8],[2350,1.21,27.4],[2390,1.22,27.3],[2430,1.21,27.7],[2470,1.22,27.8],[2510,1.20,27.4],[2540,1.19,27.7],
[2160,1.09,29.8],[2200,1.10,30.2],[2240,1.09,29.8],[2280,1.10,29.9],[2320,1.09,30.2],[2360,1.10,29.8],[2400,1.09,29.9],[2440,1.10,30.2],[2480,1.09,29.8],[2520,1.08,29.9],[2200,1.06,30.2],[2350,1.12,29.7],
[1998,1.09,27.2],[2040,1.07,27.3],[2080,1.10,27.2],[2120,1.07,27.2],[2159,1.09,27.3],
[2570,1.03,28.8],[2610,1.02,28.7],[2650,1.01,28.8],[2690,1.00,28.7],[2730,0.99,28.8],[2770,0.98,28.7],[2810,0.97,28.8],[2850,0.97,28.7],[2890,0.97,28.8],[2930,0.97,28.7],[2960,0.97,28.8],[2680,1.06,28.2],[2860,1.03,28.2],[2600,0.98,28.8],[2700,0.95,28.7],
[2540,0.89,27.8],[2580,0.88,28.2],[2620,0.87,27.8],[2660,0.88,28.3],[2700,0.87,27.8],[2740,0.86,28.2],
[2540,0.82,27.7],[2580,0.81,27.3],[2620,0.80,27.8],[2660,0.82,27.3],[2700,0.80,27.4],[2760,0.81,27.8],[2580,0.77,27.2],[2640,0.76,27.3],
[2520,0.78,29.8],[2570,0.77,30.2],[2620,0.78,29.3],[2840,0.78,29.3],[2890,0.77,29.2],[3000,0.76,30.2],[3100,0.77,30.3],[3200,0.76,30.2],[3300,0.77,30.3],[3380,0.78,30.2],
[2560,0.73,29.8],[2620,0.72,30.2],[2680,0.73,29.3],[2740,0.72,29.8],[2800,0.73,29.3],[2860,0.72,30.2],[2920,0.73,29.8],[2980,0.72,30.2],[3040,0.73,29.9],[3100,0.72,30.3],[3160,0.73,29.8],[3220,0.72,30.2],[3280,0.73,29.8],[3340,0.72,30.2],[3390,0.73,29.9],
[2600,0.68,29.3],[2660,0.67,29.8],[2720,0.68,29.2],[2780,0.67,29.8],[2840,0.68,29.3],[2900,0.67,29.8],[2960,0.68,29.3],[3020,0.67,29.8],[3080,0.68,30.2],[3140,0.67,29.8],[3200,0.68,29.3],[3260,0.67,29.8],[3320,0.68,30.2],[3380,0.67,29.8],
[2660,0.64,29.8],[2720,0.63,30.2],[2780,0.64,29.8],[2840,0.63,29.3],[2900,0.64,29.8],[2960,0.63,30.2],[3020,0.64,29.8],[3080,0.63,29.8],[3140,0.64,30.2],[3200,0.63,29.8],[3260,0.64,29.3],[3320,0.63,29.8],[3390,0.64,30.2],
[2750,0.60,29.8],[2810,0.60,29.9],[2870,0.60,29.8],[2930,0.60,29.7],[2990,0.61,29.8],[3050,0.60,29.9],[3110,0.60,29.8],[3170,0.61,29.8],[3230,0.60,29.7],[3290,0.60,29.8],[3350,0.61,29.9],[3395,0.60,29.8],
[2880,0.70,29.2],[3000,0.66,29.3],[2940,0.75,29.2]
];
const mabB = [[105,0.876],[130,0.80],[145,0.70],[172,0.735],[253,0.745],[333,0.773],[414,0.79],[467,0.85],[521,0.876],[602,0.87],[682,0.885],[763,0.895],[844,0.914],[924,0.885],[1005,0.857],[1058,0.83],[1139,0.84],[1220,0.85],[1300,0.84],[1381,0.857],[1461,0.848],[1542,0.83],[1622,0.81],[1716,0.78],[1783,0.79],[1864,0.81],[1904,0.886],[1944,1.035],[1998,1.204],[2052,1.372],[2092,1.40],[2159,1.41],[2213,1.43],[2294,1.456],[2361,1.494],[2428,1.494],[2468,1.43],[2509,1.30],[2562,1.15],[2616,1.02],[2697,0.94],[2804,0.866],[2912,0.80],[2992,0.78],[3073,0.80],[3153,0.84],[3220,0.82],[3287,0.78],[3355,0.745],[3395,0.76]];

// colour scales (bin edges) and tick values
const chlEdges = [-1,-0.75,-0.5,-0.25,0,0.25,0.5,0.75,1];
const tempEdges = [26.5,27,27.5,28,28.5,29,29.5,30];
const tempTicks = [27,28,29,30];
const depthTicksB = [0,1000,2000,3000];

// styles
const chlColors = ['#f2eaae','#dcc66b','#b4b135','#7f9e12','#438b25','#177033','#185630','#1e3321'];
const tempColors = ['#0e2f55','#4b36a0','#7d4f93','#b35f86','#e4705f','#f99f3f','#f4de50'];
const tempOver = '#e4f45c';
const FONT = "'DejaVu Sans', sans-serif";

function pieces(edges, colors, over) {
  const p = [];
  for (let i = 0; i < colors.length; i++) {
    const o = {color: colors[i]};
    if (i > 0) o.gte = edges[i];
    if (i < colors.length - 1 || over) o.lt = edges[i + 1];
    p.push(o);
  }
  if (over) p.push({gte: edges[edges.length - 1], color: over});
  return p;
}
function binData(edges) {
  const d = [];
  for (let i = 0; i < edges.length - 1; i++) d.push([edges[i], edges[i + 1]]);
  return d;
}

const axLine = {show: true, onZero: false, lineStyle: {color: '#000', width: 2}};
const axTick = {show: true, length: 8, lineStyle: {color: '#000', width: 2}};
const minor = {show: true, splitNumber: 2, length: 5, lineStyle: {color: '#000', width: 1.4}};
const lbl = {color: '#000', fontSize: 24, fontFamily: FONT};

function mainX(gi, max, interval, custom) {
  const tick = Object.assign({}, axTick), label = Object.assign({margin: 14, showMinLabel: true, formatter: v => String(v)}, lbl);
  if (custom) { tick.customValues = custom; label.customValues = custom; }
  return {gridIndex: gi, type: 'value', min: 0, max: max, interval: interval,
    name: 'Seafloor depth (m)', nameLocation: 'middle', nameGap: 46,
    nameTextStyle: {color: '#000', fontSize: 24, fontFamily: FONT},
    axisLine: axLine, axisTick: tick, splitLine: {show: false}, axisLabel: label};
}
function mainY(gi) {
  return {gridIndex: gi, type: 'value', min: 0.5, max: 2.5, interval: 0.5,
    name: 'NFR (log\u2081\u2080(nmol N L\u207b\u00b9 d\u207b\u00b9))', nameLocation: 'middle', nameGap: 70, nameRotate: 90,
    nameTextStyle: {color: '#000', fontSize: 24, fontFamily: FONT},
    axisLine: axLine, axisTick: axTick, minorTick: minor, splitLine: {show: false}, minorSplitLine: {show: false},
    axisLabel: Object.assign({margin: 16, formatter: v => v.toFixed(1)}, lbl)};
}
function cbX(gi) { return {gridIndex: gi, type: 'value', min: 0, max: 1, show: false}; }

const arrowPath = 'path://M5,0 L10,9 L9,10 L5,2.5 L1,10 L0,9 Z';

const option = {
  animation: false,
  backgroundColor: '#fff',
  textStyle: {fontFamily: FONT},
  grid: [
    {left: 112, top: 25, width: 422, height: 355, show: true, borderColor: '#000', borderWidth: 2, backgroundColor: 'transparent'},
    {left: 112, top: 486, width: 422, height: 356, show: true, borderColor: '#000', borderWidth: 2, backgroundColor: 'transparent'},
    {left: 560, top: 25, width: 18, height: 355, show: true, borderColor: '#000', borderWidth: 2, backgroundColor: 'transparent', z: 5},
    {left: 560, top: 486, width: 18, height: 356, show: true, borderColor: '#000', borderWidth: 2, backgroundColor: 'transparent', z: 5}
  ],
  xAxis: [mainX(0, 100, 20, null), mainX(1, 3400, 1000, depthTicksB), cbX(2), cbX(3)],
  yAxis: [mainY(0), mainY(1),
    {gridIndex: 2, type: 'value', position: 'right', min: -1, max: 1, interval: 0.5,
     name: '[Chl-a] (log\u2081\u2080(\u03bcg L\u207b\u00b9))', nameLocation: 'middle', nameRotate: 90, nameGap: 88,
     nameTextStyle: {color: '#000', fontSize: 24, fontFamily: FONT},
     axisLine: axLine, axisTick: axTick, splitLine: {show: false},
     axisLabel: Object.assign({margin: 17, formatter: v => v.toFixed(1).replace('-', '\u2212')}, lbl)},
    {gridIndex: 3, type: 'value', position: 'right', min: 26.5, max: 30,
     name: 'Temperature (\u00b0C)', nameLocation: 'middle', nameRotate: 90, nameGap: 58,
     nameTextStyle: {color: '#000', fontSize: 24, fontFamily: FONT},
     axisLine: axLine, axisTick: Object.assign({customValues: tempTicks}, axTick), splitLine: {show: false},
     axisLabel: Object.assign({margin: 17, customValues: tempTicks}, lbl)}
  ],
  visualMap: [
    {type: 'piecewise', show: false, seriesIndex: 0, dimension: 2, pieces: pieces(chlEdges, chlColors, null)},
    {type: 'piecewise', show: false, seriesIndex: 3, dimension: 2, pieces: pieces(tempEdges, tempColors, tempOver)}
  ],
  legend: {
    data: ['MAB', 'SAB'], orient: 'vertical', left: 372, top: 37,
    icon: 'rect', itemWidth: 57, itemHeight: 5, itemGap: 12,
    padding: [10, 12, 10, 8],
    backgroundColor: 'rgba(255,255,255,0.8)', borderColor: '#cccccc', borderWidth: 1.5, borderRadius: 5,
    textStyle: {color: '#000', fontSize: 24, fontFamily: FONT, padding: [0, 0, 0, 12]}
  },
  series: [
    {type: 'scatter', name: 'chl', xAxisIndex: 0, yAxisIndex: 0, symbolSize: 11, z: 2,
     itemStyle: {opacity: 0.92},
     data: [].concat(shelfA, lowerBandsA, upperBandsA, sparseA, midA, peakA)},
    {type: 'line', name: 'MAB', xAxisIndex: 0, yAxisIndex: 0, data: mabA, showSymbol: false, symbol: 'none', z: 4,
     lineStyle: {color: '#000', width: 5}, itemStyle: {color: '#000'}},
    {type: 'line', name: 'SAB', xAxisIndex: 0, yAxisIndex: 0, data: sabA, showSymbol: false, symbol: 'none', z: 4,
     lineStyle: {color: '#8b0a8b', width: 5}, itemStyle: {color: '#8b0a8b'}},
    {type: 'scatter', name: 'temp', xAxisIndex: 1, yAxisIndex: 1, symbolSize: 11, z: 2,
     itemStyle: {opacity: 0.92},
     data: [].concat(shelfLowB, bandB, scatterB, gsB, columnB)},
    {type: 'line', name: 'MAB >35.5N', xAxisIndex: 1, yAxisIndex: 1, data: mabB, showSymbol: false, symbol: 'none', z: 4,
     lineStyle: {color: '#000', width: 5}, itemStyle: {color: '#000'},
     markLine: {silent: true, symbol: ['none', arrowPath], symbolSize: [13, 11], label: {show: false},
       lineStyle: {color: '#000', width: 1.8, type: 'solid'}, emphasis: {disabled: true},
       data: [[{coord: [1217, 1.899]}, {coord: [846, 1.899]}], [{coord: [2780, 1.899]}, {coord: [3151, 1.899]}]]}},
    {type: 'custom', name: 'chlbar', xAxisIndex: 2, yAxisIndex: 2, data: binData(chlEdges), encode: {y: [0, 1]},
     renderItem: (params, api) => {
       const a = api.coord([0, api.value(1)]), b = api.coord([1, api.value(0)]);
       return {type: 'rect', shape: {x: a[0], y: a[1], width: b[0] - a[0], height: b[1] - a[1]}, style: {fill: chlColors[params.dataIndex]}};
     }},
    {type: 'custom', name: 'tempbar', xAxisIndex: 3, yAxisIndex: 3, data: binData(tempEdges), encode: {y: [0, 1]},
     renderItem: (params, api) => {
       const a = api.coord([0, api.value(1)]), b = api.coord([1, api.value(0)]);
       return {type: 'rect', shape: {x: a[0], y: a[1], width: b[0] - a[0], height: b[1] - a[1]}, style: {fill: tempColors[params.dataIndex]}};
     }}
  ],
  graphic: [
    {type: 'text', z: 100, style: {text: '(A)', x: 124, y: 51, verticalAlign: 'middle', fill: '#000', font: 'bold 24px ' + FONT}},
    {type: 'text', z: 100, style: {text: '(B)', x: 123, y: 513, verticalAlign: 'middle', fill: '#000', font: 'bold 24px ' + FONT}},
    {type: 'text', z: 100, style: {text: '>35.5\u00b0N', x: 528, y: 506, align: 'right', verticalAlign: 'middle', fill: '#000', font: 'bold 24px ' + FONT}},
    {type: 'text', z: 100, style: {text: 'MAB shelf water', x: 133, y: 567, verticalAlign: 'middle', fill: '#000', font: '24px ' + FONT}},
    {type: 'text', z: 100, style: {text: 'GS', x: 467, y: 567, verticalAlign: 'middle', fill: '#000', font: '24px ' + FONT}}
  ]
};
const chart = echarts.init(document.getElementById('c'));
chart.setOption(option);
</script></body></html>
